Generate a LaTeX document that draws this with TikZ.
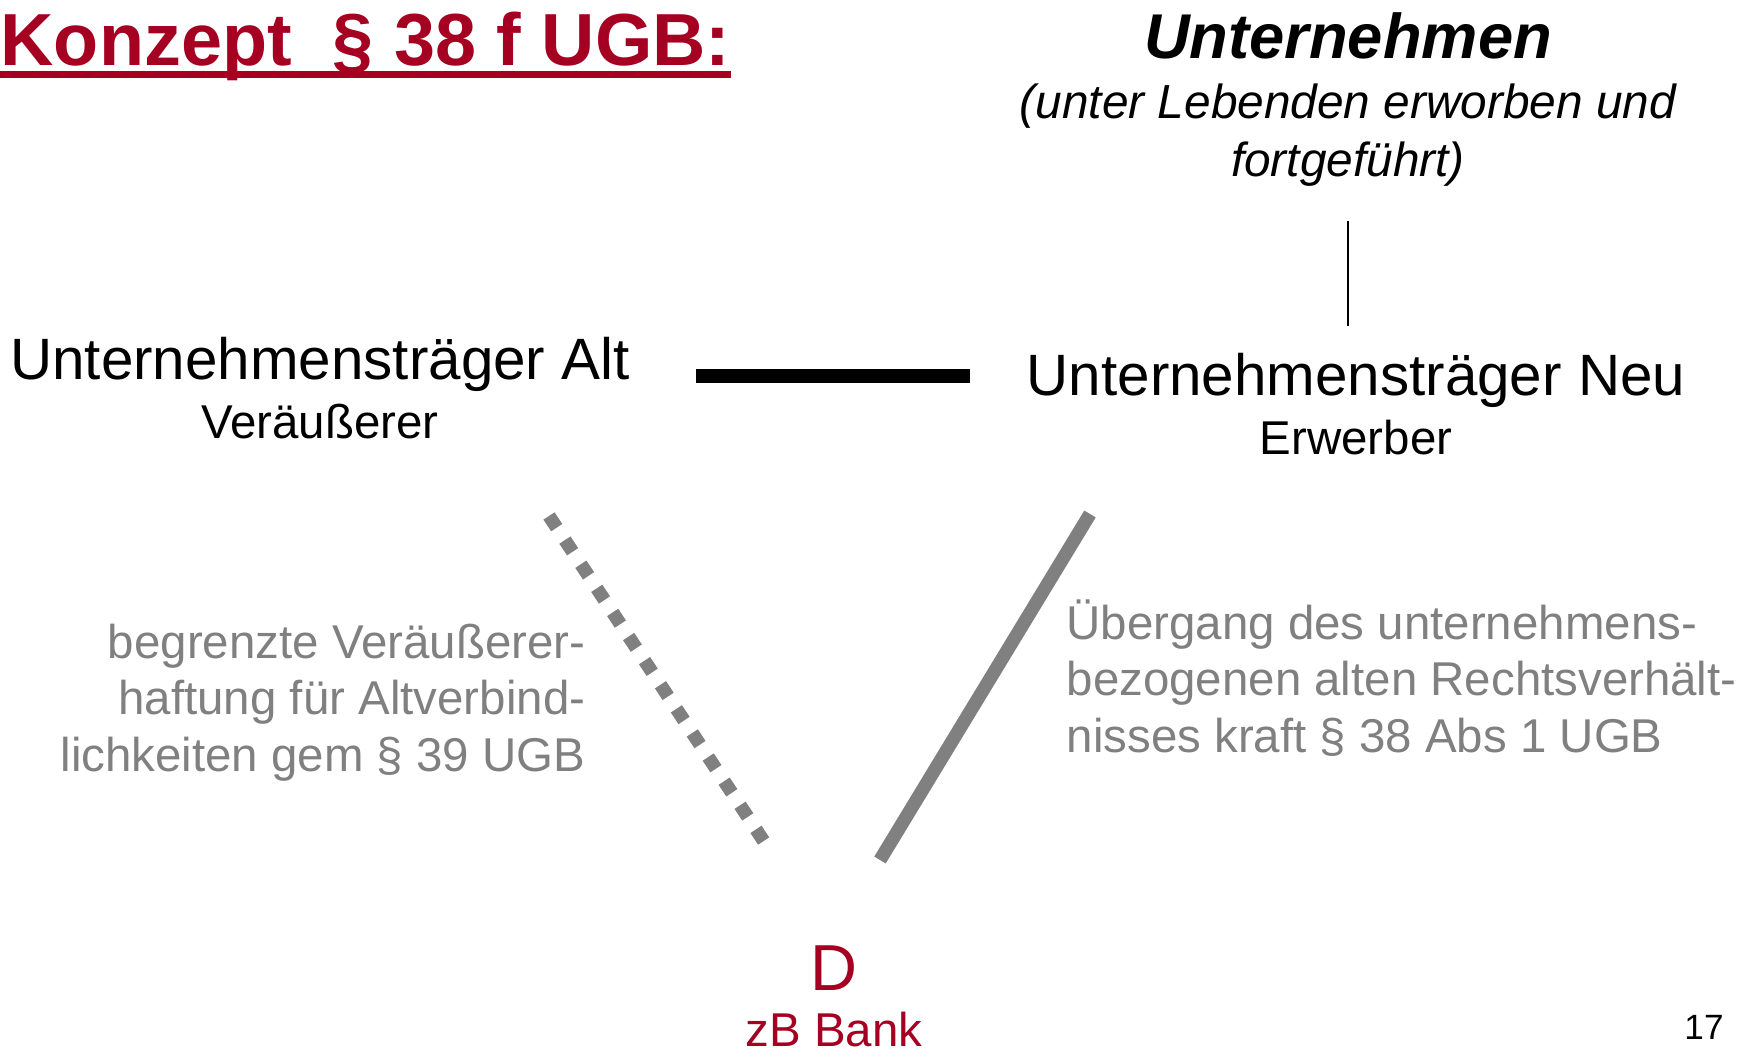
\documentclass[tikz,border=0pt]{standalone}
\usepackage{fontspec}
\setmainfont{Liberation Sans}
\usetikzlibrary{positioning,calc}
\definecolor{ugbred}{HTML}{A50021}
\definecolor{ugbgray}{HTML}{808080}

\begin{document}
\begin{tikzpicture}[x=0.1mm,y=-0.1mm,
	every node/.style={inner sep=0pt},
	traeger/.style={font=\fontsize{16.6}{20}\selectfont},
	rolle/.style={font=\fontsize{13.5}{16}\selectfont},
	hinweis/.style={font=\fontsize{13.5}{16}\selectfont,text=ugbgray},
	band/.style={color=ugbgray,line width=3.8pt}]
	\useasboundingbox (0,0) rectangle (1758,1052);

	\node[anchor=base west,text=ugbred,font=\fontsize{21}{25}\selectfont\bfseries] (titel) at (0,65) {Konzept\ \ § 38 f UGB:};
	\draw[ugbred,line width=2pt] ([yshift=-2.6pt]titel.base west) -- ([yshift=-2.6pt]titel.base east);

	\node[anchor=base,font=\fontsize{18}{22}\selectfont\bfseries\itshape] (unternehmen) at (1348,58) {Unternehmen};
	% base liegt auf der letzten Zeile
	\node[anchor=base,align=center,font=\fontsize{13.6}{16.4}\selectfont\itshape] (erwerb) at (1348,176) {(unter Lebenden erworben und\\fortgeführt)};

	\node[traeger,anchor=base] (alt) at (320,379) {Unternehmensträger Alt};
	\node[rolle,anchor=base] (veraeusserer) at (320,438) {Veräußerer};
	\node[traeger,anchor=base] (neu) at (1356,395) {Unternehmensträger Neu};
	\node[rolle,anchor=base] (erwerber) at (1356,454) {Erwerber};

	\draw[line width=0.45pt,shorten <=9.9pt,shorten >=7.4pt] (erwerb.south) -- (erwerb.south |- neu.north);
	\draw[line width=3.8pt] ($(alt.base east)+(66,-3)$) -- ($(neu.base west)+(-56,-19)$);

	\node[hinweis,align=right,anchor=base east] (haftung) at (586,771) {begrenzte Veräußerer-\\haftung für Altverbind-\\lichkeiten gem § 39 UGB};
	\node[hinweis,align=left,anchor=base west] (uebergang) at (1066,752) {Übergang des unternehmens-\\bezogenen alten Rechtsverhält-\\nisses kraft § 38 Abs 1 UGB};

	\node[anchor=base,text=ugbred,font=\fontsize{18.5}{22}\selectfont] (glaeubiger) at (834,990) {D};
	\node[rolle,anchor=base,text=ugbred] (bank) at (834,1046) {zB Bank};

	% Haftung und Uebergang
	\coordinate (haftungoben) at (549,516);
	\coordinate (haftungunten) at (765,843);
	\coordinate (uebergangoben) at (1090,514);
	\coordinate (uebergangunten) at (880,860);
	\draw[band,dash pattern=on 3.97pt off 4.25pt] (haftungoben) -- (haftungunten);
	\draw[band] (uebergangoben) -- (uebergangunten);

	\node[anchor=base,font=\fontsize{10}{12}\selectfont] (seite) at (1704,1039) {17};
\end{tikzpicture}
\end{document}
